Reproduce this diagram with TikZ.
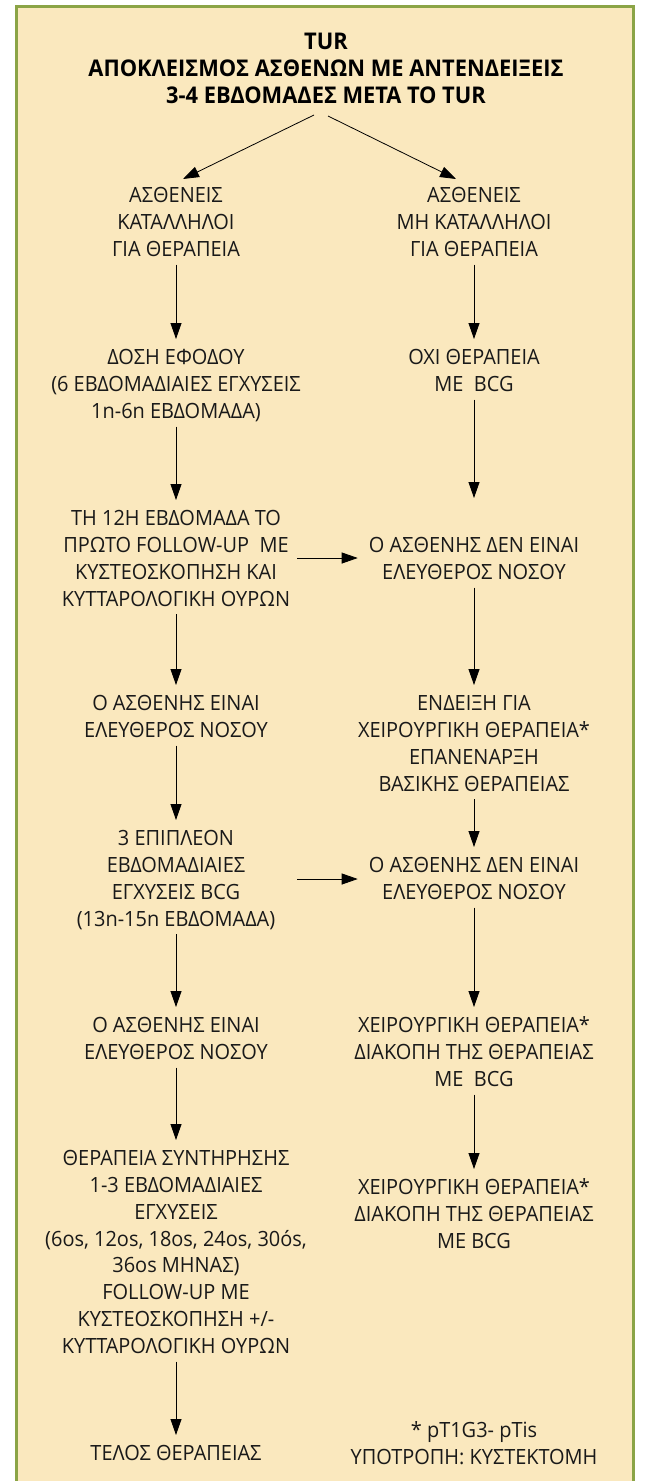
\documentclass[tikz,border=0pt]{standalone}
\usepackage{fontspec}
\setmainfont{Open Sans}[FakeStretch=0.95]
\usetikzlibrary{arrows.meta}
\definecolor{bgfill}{HTML}{FAE8BE}
\definecolor{frame}{HTML}{8BA446}
\newcommand{\ts}{\rule{0pt}{25.5pt}}
\newcommand{\botst}{\rule[-8pt]{0pt}{8pt}}
\tikzset{
  txt/.style={align=center, anchor=north, inner xsep=0pt, inner ysep=0pt,
    font=\fontsize{21}{26.8}\selectfont, text=black!90,
    execute at end node=\botst},
  ttl/.style={txt, font=\fontsize{23}{27}\selectfont\bfseries, text=black},
  arr/.style={-{Triangle[length=16pt,width=11pt]}, line width=0.8pt},
}
\begin{document}
\begin{tikzpicture}[x=1pt,y=-1pt]
\useasboundingbox (0,0) rectangle (645,1481);
\fill[white] (0,0) rectangle (645,1481);
\draw[fill=bgfill, draw=frame, line width=3pt] (16.5,6.5) rectangle (633,1500);
\node[ttl] (T) at (326,24) {\ts TUR\\ΑΠΟΚΛΕΙΣΜΟΣ ΑΣΘΕΝΩΝ ΜΕ ΑΝΤΕΝΔΕΙΞΕΙΣ\\3-4 ΕΒΔΟΜΑΔΕΣ ΜΕΤΑ ΤΟ TUR};
\node[txt] (L1) at (176,177) {\ts ΑΣΘΕΝΕΙΣ\\ΚΑΤΑΛΛΗΛΟΙ\\ΓΙΑ ΘΕΡΑΠΕΙΑ};
\node[txt] (R1) at (474,177) {\ts ΑΣΘΕΝΕΙΣ\\ΜΗ ΚΑΤΑΛΛΗΛΟΙ\\ΓΙΑ ΘΕΡΑΠΕΙΑ};
\node[txt] (L2) at (176,339) {\ts ΔΟΣΗ ΕΦΟΔΟΥ\\(6 ΕΒΔΟΜΑΔΙΑΙΕΣ ΕΓΧΥΣΕΙΣ\\1n-6n ΕΒΔΟΜΑΔΑ)};
\node[txt] (R2) at (474,339) {\ts ΟΧΙ ΘΕΡΑΠΕΙΑ\\ΜΕ~~BCG};
\node[txt] (L3) at (176,500) {\ts ΤΗ 12Η ΕΒΔΟΜΑΔΑ ΤΟ\\ΠΡΩΤΟ FOLLOW-UP~~ΜΕ\\ΚΥΣΤΕΟΣΚΟΠΗΣΗ ΚΑΙ\\ΚΥΤΤΑΡΟΛΟΓΙΚΗ ΟΥΡΩΝ};
\node[txt] (R3) at (474,527) {\ts Ο ΑΣΘΕΝΗΣ ΔΕΝ ΕΙΝΑΙ\\ΕΛΕΥΘΕΡΟΣ ΝΟΣΟΥ};
\node[txt] (L4) at (176,685) {\ts Ο ΑΣΘΕΝΗΣ ΕΙΝΑΙ\\ΕΛΕΥΘΕΡΟΣ ΝΟΣΟΥ};
\node[txt] (R4) at (474,685) {\ts ΕΝΔΕΙΞΗ ΓΙΑ\\ΧΕΙΡΟΥΡΓΙΚΗ ΘΕΡΑΠΕΙΑ*\\ΕΠΑΝΕΝΑΡΞΗ\\ΒΑΣΙΚΗΣ ΘΕΡΑΠΕΙΑΣ};
\node[txt] (L5) at (176,820) {\ts 3 ΕΠΙΠΛΕΟΝ\\ΕΒΔΟΜΑΔΙΑΙΕΣ\\ΕΓΧΥΣΕΙΣ BCG\\(13n-15n ΕΒΔΟΜΑΔΑ)};
\node[txt] (R5) at (474,847) {\ts Ο ΑΣΘΕΝΗΣ ΔΕΝ ΕΙΝΑΙ\\ΕΛΕΥΘΕΡΟΣ ΝΟΣΟΥ};
\node[txt] (L6) at (176,1007) {\ts Ο ΑΣΘΕΝΗΣ ΕΙΝΑΙ\\ΕΛΕΥΘΕΡΟΣ ΝΟΣΟΥ};
\node[txt] (R6) at (474,1007) {\ts ΧΕΙΡΟΥΡΓΙΚΗ ΘΕΡΑΠΕΙΑ*\\ΔΙΑΚΟΠΗ ΤΗΣ ΘΕΡΑΠΕΙΑΣ\\ΜΕ~~BCG};
\node[txt] (L7) at (176,1140) {\ts ΘΕΡΑΠΕΙΑ ΣΥΝΤΗΡΗΣΗΣ\\1-3 ΕΒΔΟΜΑΔΙΑΙΕΣ\\ΕΓΧΥΣΕΙΣ\\(6os, 12os, 18os, 24os, 30ós,\\36os ΜΗΝΑΣ)\\FOLLOW-UP ΜΕ\\ΚΥΣΤΕΟΣΚΟΠΗΣΗ +/-\\ΚΥΤΤΑΡΟΛΟΓΙΚΗ ΟΥΡΩΝ};
\node[txt] (R7) at (474,1169) {\ts ΧΕΙΡΟΥΡΓΙΚΗ ΘΕΡΑΠΕΙΑ*\\ΔΙΑΚΟΠΗ ΤΗΣ ΘΕΡΑΠΕΙΑΣ\\ΜΕ BCG};
\node[txt] (L8) at (176,1435) {\ts ΤΕΛΟΣ ΘΕΡΑΠΕΙΑΣ};
\node[txt] (N) at (474,1412) {\ts * pT1G3- pTis\\ΥΠΟΤΡΟΠΗ: ΚΥΣΤΕΚΤΟΜΗ};
\coordinate (ts1) at (314,115);
\coordinate (ts2) at (328,116);
\coordinate (h1) at (297,558);
\coordinate (h2) at (297,879);
\draw[arr] (ts1) -- ([xshift=7pt,yshift=-2pt]L1.north);
\draw[arr] (ts2) -- ([xshift=-18pt,yshift=-2pt]R1.north);
\draw[arr] (L1) -- (L2);
\draw[arr] (R1) -- (R2);
\draw[arr] (L2) -- (L3);
\draw[arr, shorten >=29pt] (R2) -- (R3);
\draw[arr, shorten >=11pt] (h1) -- (R3.west |- h1);
\draw[arr] (L3) -- (L4);
\draw[arr] (R3) -- (R4);
\draw[arr] (L4) -- (L5);
\draw[arr] (R4) -- (R5);
\draw[arr, shorten >=11pt] (h2) -- (R5.west |- h2);
\draw[arr] (L5) -- (L6);
\draw[arr] (R5) -- (R6);
\draw[arr] (L6) -- (L7);
\draw[arr] (R6) -- (R7);
\draw[arr] (L7) -- (L8);
\end{tikzpicture}
\end{document}
